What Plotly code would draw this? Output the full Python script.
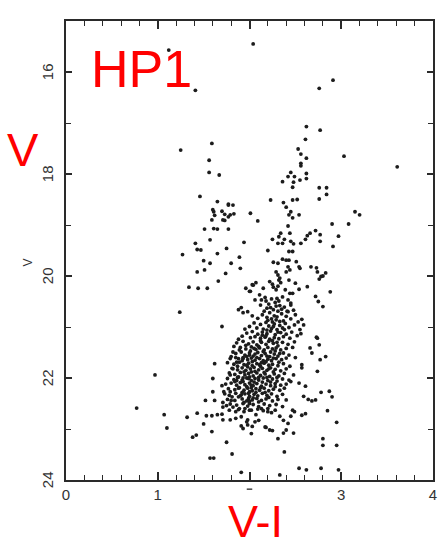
import plotly.graph_objects as go

# ---- data (V-I, V) read from the scanned CMD of HP1 ----
bright_stars = [
    (2.04, 15.45), (1.12, 15.57), (1.41, 16.36), (2.91, 16.16), (2.76, 16.32),
    (2.62, 17.07), (2.77, 17.14), (2.61, 17.32), (3.03, 17.65), (3.61, 17.86),
    (2.53, 17.51), (2.56, 17.61), (2.62, 17.69), (2.56, 17.79), (2.56, 17.84),
    (2.62, 17.99), (2.62, 18.09), (2.45, 17.97), (2.42, 18.05), (2.49, 18.05),
    (2.36, 18.15), (2.48, 18.16), (2.55, 18.12), (2.47, 18.26), (2.76, 18.27),
    (2.84, 18.27), (2.84, 18.40), (2.76, 18.49), (2.23, 18.51), (2.37, 18.56),
    (2.47, 18.51), (2.52, 18.50),
]

horizontal_branch = [
    (1.59, 17.40), (1.25, 17.53), (1.56, 17.73), (1.56, 17.97), (1.67, 18.02),
    (1.46, 18.44), (1.65, 18.54), (1.77, 18.59), (1.61, 18.74), (1.62, 18.81),
    (1.60, 18.70), (1.70, 18.73), (1.73, 18.79), (1.71, 18.90), (1.77, 18.61),
    (1.82, 18.61), (1.79, 18.80), (1.83, 18.78), (1.77, 18.84), (1.59, 18.90),
    (1.73, 18.91), (2.01, 18.77), (1.51, 19.08), (1.61, 19.07), (1.65, 19.08),
    (1.77, 19.08), (1.57, 19.29), (1.94, 19.34), (1.41, 19.36), (1.43, 19.48),
    (1.47, 19.49), (1.27, 19.58), (1.65, 19.56), (1.75, 19.46), (1.50, 19.70),
    (1.57, 19.75), (1.89, 19.63), (1.80, 19.75), (1.90, 19.85), (1.43, 19.92),
    (1.51, 19.88), (1.74, 19.95), (1.66, 20.10), (1.34, 20.22), (1.44, 20.24),
    (1.54, 20.24), (1.96, 20.24), (2.01, 20.30), (2.03, 20.17), (1.24, 20.71),
    (1.88, 20.66), (1.91, 20.62), (1.93, 20.72), (1.98, 20.70), (1.70, 20.99),
]

red_giant_branch = [
    (2.09, 18.92), (2.40, 18.65), (2.45, 18.74), (2.43, 18.80), (2.54, 18.80),
    (2.47, 18.86), (3.15, 18.74), (3.20, 18.80), (2.90, 18.98), (3.08, 18.98),
    (2.97, 19.22), (2.91, 19.42), (2.77, 19.19), (2.77, 19.32), (2.72, 19.11),
    (2.66, 19.16), (2.63, 19.21), (2.61, 19.28), (2.56, 19.36), (2.42, 19.02),
    (2.44, 19.16), (2.34, 19.16), (2.32, 19.23), (2.38, 19.28), (2.25, 19.28),
    (2.31, 19.36), (2.36, 19.36), (2.45, 19.32), (2.48, 19.37), (2.20, 19.50),
    (2.43, 19.52), (2.47, 19.52), (2.26, 19.73), (2.31, 19.75), (2.36, 19.67),
    (2.40, 19.69), (2.43, 19.69), (2.51, 19.72), (2.54, 19.82), (2.55, 19.85),
    (2.42, 19.82), (2.44, 19.88), (2.40, 19.92), (2.29, 19.92), (2.31, 19.98),
    (2.67, 19.82), (2.73, 19.84), (2.74, 19.92), (2.83, 19.94), (2.78, 20.01),
    (2.76, 20.06), (2.80, 20.00), (2.33, 20.04), (2.32, 20.08), (2.34, 20.13),
    (2.43, 20.08), (2.07, 20.13), (2.04, 20.18), (2.22, 20.11), (2.25, 20.16),
    (2.50, 20.14), (2.54, 20.26), (2.63, 20.21), (2.15, 20.24), (2.26, 20.22),
    (2.29, 20.27), (2.31, 20.20), (2.39, 20.27), (2.44, 20.34), (2.47, 20.34),
    (2.88, 20.31), (2.72, 20.40), (2.75, 20.50), (2.80, 20.60), (2.11, 20.37),
    (2.13, 20.47), (2.06, 20.47), (2.00, 20.30), (2.42, 20.47), (2.45, 20.57),
    (2.42, 20.70), (2.48, 20.67), (2.50, 20.76),
]

red_outskirts = [
    (2.57, 20.85), (2.59, 20.96), (2.53, 20.90), (2.55, 21.05), (2.56, 21.13),
    (2.74, 21.22), (2.73, 21.20), (2.76, 21.35), (2.66, 21.41), (2.68, 21.51),
    (2.83, 21.58), (2.77, 21.64), (2.57, 21.74), (2.57, 21.80), (2.74, 21.87),
    (2.48, 21.94), (2.45, 22.07), (2.54, 22.10), (2.61, 22.16), (2.78, 22.28),
    (2.87, 22.26), (2.90, 22.37), (2.59, 22.36), (2.64, 22.42), (2.68, 22.45),
    (2.72, 22.43), (2.85, 22.64), (2.47, 22.63), (2.49, 22.66), (2.57, 22.73),
    (2.61, 22.70), (2.45, 22.75), (2.33, 22.75), (2.24, 22.68), (2.20, 22.66),
    (2.13, 22.60), (2.00, 22.63), (2.95, 22.87), (2.06, 22.86), (1.98, 22.82),
    (2.18, 22.97), (2.22, 23.02), (2.42, 22.89), (2.40, 23.02), (2.37, 23.08),
    (2.48, 23.08), (2.31, 23.19), (2.02, 23.09), (2.80, 23.19), (2.80, 23.32),
    (2.95, 23.32), (2.38, 23.45), (2.54, 23.77), (2.62, 23.80), (2.78, 23.77),
    (2.97, 23.80), (2.33, 23.90), (2.10, 22.83), (2.17, 22.96), (2.25, 23.03),
    (2.07, 22.72), (2.37, 22.83), (1.97, 22.86), (2.03, 22.95),
]

blue_outskirts = [
    (0.97, 21.94), (0.77, 22.59), (1.07, 22.72), (1.10, 22.98), (1.32, 22.77),
    (1.38, 23.16), (1.42, 23.12), (1.43, 22.69), (1.53, 22.74), (1.50, 22.90),
    (1.59, 22.74), (1.65, 22.72), (1.70, 22.71), (1.59, 23.05), (1.57, 23.57),
    (1.61, 23.57), (1.75, 23.26), (1.81, 23.49), (1.91, 23.85), (1.62, 21.72),
    (1.60, 22.01), (1.60, 22.27), (1.62, 22.44), (1.52, 22.44), (1.70, 22.15),
    (1.72, 22.27), (1.71, 22.48), (1.75, 22.54), (1.71, 22.57), (1.80, 22.44),
    (1.82, 22.57), (1.78, 22.63), (1.85, 22.66), (1.71, 22.82), (1.79, 22.82),
    (1.85, 22.79), (1.91, 22.76), (1.91, 22.94), (1.93, 22.99), (1.98, 22.92),
    (1.89, 22.60), (1.94, 22.66), (2.00, 22.50), (1.82, 21.49), (1.89, 21.45),
    (1.79, 21.62), (1.86, 21.69), (1.93, 21.62), (1.82, 21.82), (1.79, 21.94),
    (1.88, 21.98), (1.84, 22.07), (1.93, 22.07), (1.79, 22.27), (1.88, 22.20),
    (1.81, 22.37), (1.91, 22.33), (2.00, 21.55), (1.97, 21.75), (2.02, 21.88),
    (1.99, 22.01), (2.02, 22.14), (2.00, 22.27), (1.99, 22.40),
]

turnoff_core = [
    (2.17, 20.42), (2.24, 20.45), (2.36, 20.41), (2.21, 20.55), (2.28, 20.52),
    (2.33, 20.58), (2.19, 20.63), (2.38, 20.61), (2.26, 20.66), (2.30, 20.44),
    (2.12, 20.57), (2.45, 20.53),
    (2.22, 20.72), (2.27, 20.78), (2.35, 20.74), (2.14, 20.76), (2.31, 20.69),
    (2.40, 20.79), (2.19, 20.81), (2.24, 20.84), (2.09, 20.83), (2.29, 20.86),
    (2.37, 20.88), (2.45, 20.84), (2.03, 20.78), (2.16, 20.69),
    (2.05, 20.92), (2.12, 20.95), (2.18, 20.91), (2.21, 20.98), (2.27, 20.94),
    (2.33, 20.97), (2.39, 20.93), (2.43, 21.01), (2.08, 21.02), (2.15, 21.04),
    (2.24, 21.03), (2.30, 21.05), (2.36, 21.02), (2.49, 20.96), (2.00, 20.99),
    (1.95, 21.04),
    (1.97, 21.12), (2.03, 21.09), (2.09, 21.14), (2.14, 21.10), (2.19, 21.13),
    (2.23, 21.08), (2.28, 21.15), (2.34, 21.11), (2.40, 21.14), (2.46, 21.10),
    (1.92, 21.18), (2.01, 21.21), (2.06, 21.19), (2.12, 21.22), (2.17, 21.20),
    (2.22, 21.24), (2.27, 21.21), (2.32, 21.23), (2.37, 21.19), (2.44, 21.22),
    (2.52, 21.17), (1.88, 21.24),
    (1.86, 21.31), (1.93, 21.28), (1.99, 21.33), (2.04, 21.29), (2.08, 21.35),
    (2.13, 21.30), (2.18, 21.34), (2.21, 21.28), (2.26, 21.32), (2.31, 21.37),
    (2.36, 21.30), (2.42, 21.34), (2.49, 21.29), (1.90, 21.40), (1.96, 21.43),
    (2.02, 21.39), (2.07, 21.44), (2.11, 21.41), (2.16, 21.45), (2.20, 21.40),
    (2.25, 21.43), (2.29, 21.41), (2.34, 21.45), (2.40, 21.42), (2.47, 21.40),
    (1.83, 21.38),
    (1.85, 21.52), (1.91, 21.49), (1.95, 21.55), (2.00, 21.51), (2.04, 21.57),
    (2.09, 21.50), (2.13, 21.56), (2.17, 21.52), (2.22, 21.58), (2.27, 21.53),
    (2.31, 21.57), (2.37, 21.51), (2.43, 21.55), (1.80, 21.58), (1.88, 21.62),
    (1.93, 21.60), (1.98, 21.64), (2.02, 21.61), (2.06, 21.65), (2.11, 21.62),
    (2.15, 21.66), (2.20, 21.63), (2.24, 21.66), (2.29, 21.62), (2.35, 21.64),
    (2.40, 21.61), (2.50, 21.60),
]

main_sequence = [
    (1.76, 21.70), (1.83, 21.73), (1.89, 21.69), (1.94, 21.74), (1.99, 21.71),
    (2.03, 21.76), (2.08, 21.72), (2.12, 21.77), (2.16, 21.71), (2.21, 21.75),
    (2.25, 21.73), (2.31, 21.76), (2.37, 21.72), (2.44, 21.77), (1.81, 21.81),
    (1.87, 21.84), (1.92, 21.80), (1.96, 21.85), (2.01, 21.82), (2.05, 21.79),
    (2.10, 21.84), (2.14, 21.81), (2.19, 21.85), (2.23, 21.80), (2.28, 21.83),
    (2.34, 21.86), (2.40, 21.82),
    (1.78, 21.90), (1.84, 21.93), (1.90, 21.89), (1.95, 21.94), (1.99, 21.91),
    (2.04, 21.96), (2.08, 21.90), (2.12, 21.95), (2.17, 21.92), (2.22, 21.97),
    (2.27, 21.92), (2.32, 21.96), (2.38, 21.91), (1.76, 22.01), (1.83, 22.03),
    (1.87, 21.99), (1.92, 22.04), (1.97, 22.00), (2.02, 22.05), (2.06, 22.01),
    (2.10, 22.04), (2.15, 22.00), (2.20, 22.05), (2.25, 22.02), (2.30, 22.06),
    (2.36, 22.02), (2.43, 22.04),
    (1.74, 22.12), (1.80, 22.10), (1.86, 22.14), (1.90, 22.09), (1.95, 22.13),
    (2.00, 22.10), (2.04, 22.15), (2.08, 22.11), (2.13, 22.16), (2.18, 22.12),
    (2.23, 22.15), (2.28, 22.11), (2.34, 22.14), (2.40, 22.12), (1.77, 22.21),
    (1.84, 22.23), (1.89, 22.19), (1.94, 22.24), (1.98, 22.20), (2.03, 22.25),
    (2.07, 22.21), (2.11, 22.24), (2.16, 22.20), (2.21, 22.25), (2.26, 22.22),
    (2.33, 22.24), (2.38, 22.20),
    (1.73, 22.31), (1.78, 22.34), (1.85, 22.30), (1.90, 22.35), (1.95, 22.31),
    (2.00, 22.36), (2.05, 22.32), (2.09, 22.35), (2.14, 22.30), (2.19, 22.34),
    (2.24, 22.31), (2.30, 22.36), (2.36, 22.32), (1.76, 22.42), (1.84, 22.44),
    (1.92, 22.41), (1.97, 22.45), (2.03, 22.43), (2.08, 22.40), (2.13, 22.44),
    (2.18, 22.41), (2.25, 22.45), (2.31, 22.42), (2.40, 22.43),
    (1.79, 22.51), (1.86, 22.53), (1.93, 22.50), (1.98, 22.55), (2.04, 22.52),
    (2.10, 22.56), (2.16, 22.51), (2.22, 22.54), (2.29, 22.52), (2.36, 22.56),
    (1.88, 22.62), (1.95, 22.60), (2.02, 22.63), (2.09, 22.61), (2.15, 22.64),
    (2.20, 22.60), (2.28, 22.63),
]

dense_center = [
    (1.96, 21.36), (2.01, 21.47), (2.06, 21.53), (2.10, 21.38), (2.15, 21.48),
    (2.19, 21.57), (2.23, 21.49), (1.97, 21.58), (2.03, 21.68), (2.08, 21.60),
    (2.13, 21.70), (2.18, 21.68), (1.92, 21.66), (1.98, 21.78), (2.06, 21.87),
    (2.11, 21.74), (2.16, 21.89), (2.21, 21.82), (1.94, 21.88), (2.00, 21.98),
    (2.05, 22.08), (2.10, 21.99), (2.14, 22.08), (2.19, 21.99), (1.93, 22.00),
    (1.97, 22.17), (2.02, 22.19), (2.07, 22.28), (2.12, 22.19), (2.17, 22.28),
    (1.92, 22.28), (1.99, 22.30), (2.04, 22.39), (2.10, 22.47), (1.94, 22.48),
    (2.00, 22.46), (1.88, 22.37), (1.86, 22.05), (1.87, 21.77), (1.85, 21.60),
    (2.05, 21.42), (2.12, 21.27), (2.18, 21.17), (2.25, 21.27), (2.30, 21.30),
    (2.28, 21.47), (2.33, 21.52), (2.26, 21.61), (2.32, 21.69), (2.26, 21.88),
    (2.30, 21.99), (2.23, 22.08), (2.28, 22.17), (2.21, 22.38),
    (2.20, 20.87), (2.25, 20.90), (2.30, 20.80), (2.33, 20.89), (2.26, 20.99),
    (2.19, 21.06), (2.31, 21.10), (2.14, 21.16), (2.38, 21.05), (2.23, 20.62),
    (2.29, 20.59), (2.35, 20.65), (2.18, 20.49), (2.32, 20.49), (2.41, 20.69),
]

x_tick_vals = [0, 1, 2, 3, 4]
x_tick_text = ["0", "1", "", "3", "4"]   # the "2" is worn away in the scan
y_tick_vals = [16, 18, 20, 22, 24]
y_tick_text = ["16", "18", "20", "22", "24"]

groups = [bright_stars, horizontal_branch, red_giant_branch, red_outskirts,
          blue_outskirts, turnoff_core, main_sequence, dense_center]
all_pts = [p for g in groups for p in g]
vi = [p[0] for p in all_pts]
vmag = [p[1] for p in all_pts]

fig = go.Figure()
fig.add_trace(go.Scatter(
    x=vi, y=vmag, mode="markers",
    marker=dict(size=3.8, color="#1c1c1c", line=dict(width=0)),
    hoverinfo="skip", showlegend=False,
))

tick_font = dict(family="Liberation Sans, Arial, sans-serif", size=15, color="#333")
axis_common = dict(
    showgrid=False, zeroline=False, showline=True, linecolor="#2a2a2a",
    linewidth=2, mirror="allticks", ticks="inside", tickcolor="#2a2a2a",
    tickwidth=1.5,
)

fig.update_xaxes(
    range=[0, 4], tickvals=x_tick_vals, ticktext=x_tick_text, ticklen=8,
    tickfont=tick_font,
    minor=dict(dtick=0.2, ticks="inside", ticklen=5, tickcolor="#2a2a2a", tickwidth=1.2),
    **axis_common,
)
fig.update_yaxes(
    range=[24, 15], tickvals=y_tick_vals, ticklen=6, showticklabels=False,
    minor=dict(dtick=1, ticks="inside", ticklen=5, tickcolor="#2a2a2a", tickwidth=1.2),
    **axis_common,
)

# remnant stroke of the worn "2" label under x = 2
fig.add_shape(type="line", xref="x", yref="paper", x0=1.97, x1=2.03,
              y0=-0.02, y1=-0.02, line=dict(color="#444", width=1.5))

# rotated y tick labels (reading bottom-to-top as in the scan)
for val, txt in zip(y_tick_vals, y_tick_text):
    fig.add_annotation(text=txt, x=-0.0512, y=val, xref="paper", yref="y",
                       showarrow=False, textangle=-90, xanchor="center",
                       yanchor="middle", font=tick_font)

red_font = "Liberation Sans, Arial, sans-serif"
fig.add_annotation(text="HP1", x=0.205, y=0.8954, xref="paper", yref="paper",
                   xanchor="center", yanchor="middle", showarrow=False,
                   font=dict(family=red_font, size=52, color="#ff0000"))
fig.add_annotation(text="V", x=-0.116, y=0.7211, xref="paper", yref="paper",
                   xanchor="center", yanchor="middle", showarrow=False,
                   font=dict(family=red_font, size=47, color="#ff0000"))
fig.add_annotation(text="V-I", x=0.515, y=-0.0915, xref="paper", yref="paper",
                   xanchor="center", yanchor="middle", showarrow=False,
                   font=dict(family=red_font, size=45, color="#ff0000"))
fig.add_annotation(text="V", x=-0.1024, y=0.475, xref="paper", yref="paper",
                   xanchor="center", yanchor="middle", showarrow=False,
                   textangle=-90, font=dict(family=red_font, size=12, color="#333"))

fig.update_layout(
    width=444, height=549,
    margin=dict(l=66, r=7, t=21, b=69),
    paper_bgcolor="white", plot_bgcolor="white",
)

fig.write_html("out.html")
